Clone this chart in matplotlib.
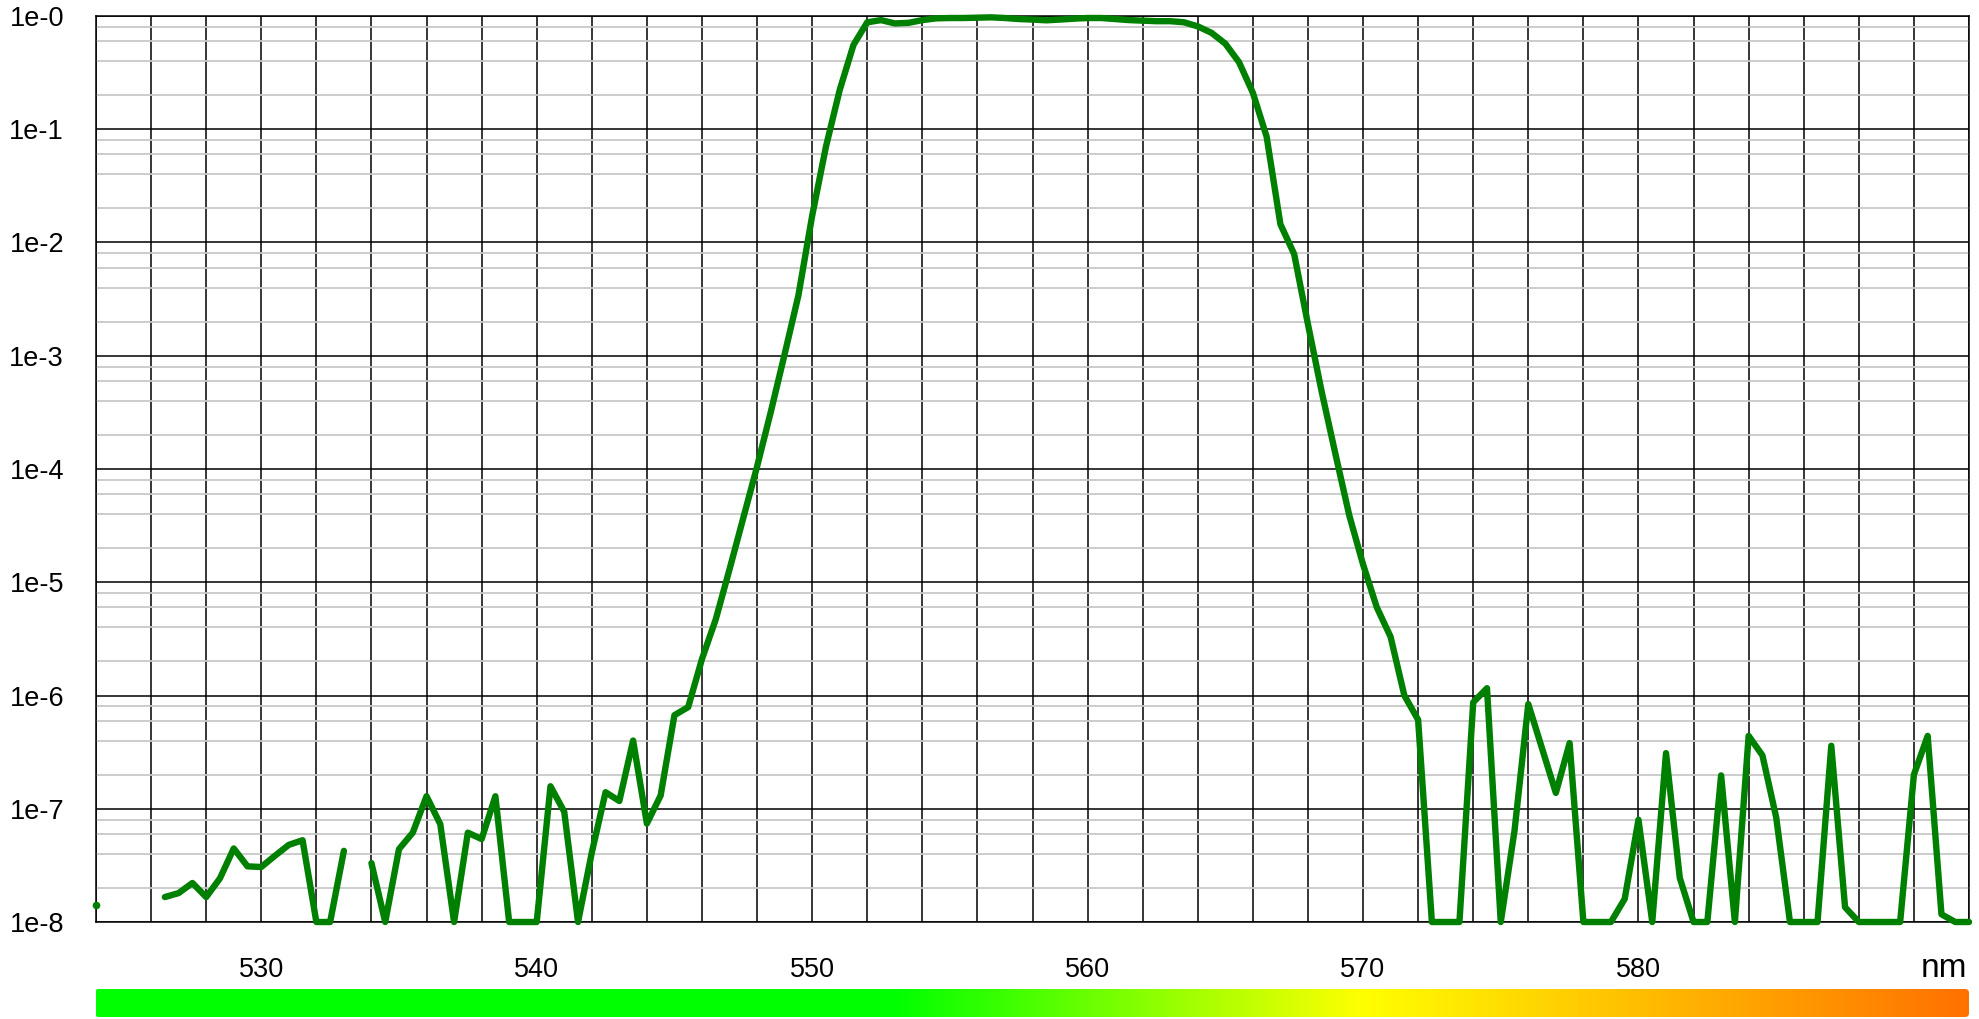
import numpy as np
import matplotlib
matplotlib.use("Agg")
import matplotlib.pyplot as plt
from matplotlib.ticker import FixedLocator, LogLocator, FuncFormatter, NullFormatter
from matplotlib.patches import FancyBboxPatch
from matplotlib.transforms import IdentityTransform

plt.rcParams["font.family"] = ["Liberation Sans", "DejaVu Sans"]

# ---------------- data ----------------
# wavelength sampling grid (nm), 0.5 nm step from 524 to 592
wl_start, wl_stop, wl_step = 524.0, 592.0, 0.5

# transmission (None = no value)
transmission = [
    1.40e-8, None, None, None, None,                      # 524.0 - 526.0
    1.66e-8, 1.80e-8, 2.21e-8, 1.66e-8, 2.43e-8,          # 526.5 - 528.5
    4.46e-8, 3.10e-8, 3.06e-8, 3.85e-8, 4.80e-8,          # 529.0 - 531.0
    5.27e-8, 1.0e-8, 1.0e-8, 4.25e-8, None,               # 531.5 - 533.5
    3.31e-8, 1.0e-8, 4.40e-8, 6.15e-8, 1.29e-7,           # 534.0 - 536.0
    7.30e-8, 1.0e-8, 6.15e-8, 5.40e-8, 1.29e-7,           # 536.5 - 538.5
    1.0e-8, 1.0e-8, 1.0e-8, 1.58e-7, 9.40e-8,             # 539.0 - 541.0
    1.0e-8, 4.10e-8, 1.40e-7, 1.17e-7, 4.00e-7,           # 541.5 - 543.5
    7.40e-8, 1.31e-7, 6.70e-7, 7.90e-7, 2.10e-6,          # 544.0 - 546.0
    4.70e-6, 1.30e-5, 3.70e-5, 1.05e-4, 3.20e-4,          # 546.5 - 548.5
    1.03e-3, 3.40e-3, 1.72e-2, 7.00e-2, 0.222,            # 549.0 - 551.0
    0.555, 0.88, 0.92, 0.86, 0.87,                        # 551.5 - 553.5
    0.92, 0.953, 0.96, 0.96, 0.966,                       # 554.0 - 556.0
    0.973, 0.96, 0.94, 0.93, 0.916,                       # 556.5 - 558.5
    0.93, 0.947, 0.96, 0.96, 0.94,                        # 559.0 - 561.0
    0.92, 0.91, 0.90, 0.90, 0.88,                         # 561.5 - 563.5
    0.81, 0.71, 0.57, 0.39, 0.21,                         # 564.0 - 566.0
    0.086, 0.0145, 7.9e-3, 1.9e-3, 4.8e-4,               # 566.5 - 568.5
    1.35e-4, 3.9e-5, 1.44e-5, 6.0e-6, 3.3e-6,            # 569.0 - 571.0
    1.0e-6, 6.1e-7, 1.0e-8, 1.0e-8, 1.0e-8,              # 571.5 - 573.5
    8.7e-7, 1.16e-6, 1.0e-8, 6.4e-8, 8.4e-7,             # 574.0 - 576.0
    3.4e-7, 1.38e-7, 3.8e-7, 1.0e-8, 1.0e-8,             # 576.5 - 578.5
    1.0e-8, 1.6e-8, 8.0e-8, 1.0e-8, 3.1e-7,              # 579.0 - 581.0
    2.45e-8, 1.0e-8, 1.0e-8, 1.97e-7, 1.0e-8,            # 581.5 - 583.5
    4.4e-7, 2.96e-7, 8.4e-8, 1.0e-8, 1.0e-8,             # 584.0 - 586.0
    1.0e-8, 3.6e-7, 1.35e-8, 1.0e-8, 1.0e-8,             # 586.5 - 588.5
    1.0e-8, 1.0e-8, 2.0e-7, 4.4e-7, 1.17e-8,             # 589.0 - 591.0
    1.0e-8, 1.0e-8,                                       # 591.5 - 592.0
]

x_tick_values = [530, 540, 550, 560, 570, 580]
x_tick_labels = ["530", "540", "550", "560", "570", "580"]
y_decades = [-8, -7, -6, -5, -4, -3, -2, -1, 0]
y_tick_labels = ["1e-8", "1e-7", "1e-6", "1e-5", "1e-4", "1e-3", "1e-2", "1e-1", "1e-0"]
unit_label = "nm"

# colour strip stops (nm -> RGB)
strip_nm = [524, 553, 570, 592]
strip_rgb = [(0.0, 1.0, 0.0), (0.0, 1.0, 0.0), (1.0, 1.0, 0.0), (1.0, 0.44, 0.0)]

# ---------------- figure ----------------
W, H = 1979, 1019
fig = plt.figure(figsize=(W / 100, H / 100), dpi=100)
ax = fig.add_axes([96 / W, 1 - 922 / H, (1969 - 96) / W, (922 - 16) / H])

wl = np.arange(wl_start, wl_stop + wl_step / 2, wl_step)
y = np.array([np.nan if v is None else v for v in transmission], dtype=float)
assert len(wl) == len(y)

ax.set_yscale("log")
ax.set_ylim(1e-8, 1)
ax.set_xlim(wl_start, wl_stop)

line_color = "#008000"
ax.plot(wl, y, color=line_color, lw=4.6, solid_capstyle="round",
        solid_joinstyle="round", clip_on=False, zorder=5)
# isolated samples (no neighbours) drawn as dots
fin = np.isfinite(y)
prev_f = np.r_[False, fin[:-1]]
next_f = np.r_[fin[1:], False]
iso = fin & ~prev_f & ~next_f
ax.plot(wl[iso], y[iso], "o", color=line_color, ms=5.5, mew=0, clip_on=False, zorder=5)

# ticks & grid
ax.yaxis.set_major_locator(FixedLocator([10.0 ** d for d in y_decades]))
ax.yaxis.set_major_formatter(FuncFormatter(
    lambda v, _: y_tick_labels[y_decades.index(int(round(np.log10(v))))]))
ax.yaxis.set_minor_locator(LogLocator(base=10, subs=[2, 4, 6, 8], numticks=50))
ax.yaxis.set_minor_formatter(NullFormatter())

ax.xaxis.set_major_locator(FixedLocator(x_tick_values))
ax.set_xticklabels(x_tick_labels)
ax.xaxis.set_minor_locator(FixedLocator(np.arange(wl_start, wl_stop + 1, 2)))

ax.set_axisbelow(True)
ax.grid(which="minor", axis="y", color="#c8c8c8", lw=1.3, zorder=0)
ax.grid(which="major", axis="both", color="black", lw=1.1, zorder=1)
ax.grid(which="minor", axis="x", color="black", lw=1.1, zorder=1)

ax.tick_params(which="both", length=0)
ax.tick_params(axis="y", labelsize=19.5, pad=23)
ax.tick_params(axis="x", labelsize=19.5, pad=25)
for s in ax.spines.values():
    s.set_color("black")
    s.set_linewidth(1.1)

fig.text(1967 / W, 1 - 977 / H, unit_label, ha="right", va="baseline", fontsize=24)

# ---------------- colour strip ----------------
cax = fig.add_axes([96 / W, 1 - 1017 / H, (1969 - 96) / W, 28 / H])
cax.set_xlim(wl_start, wl_stop)
cax.set_ylim(0, 1)
cax.axis("off")
grid_nm = np.linspace(wl_start, wl_stop, 1200)
rgb = np.array([[np.interp(g, strip_nm, [c[k] for c in strip_rgb]) for k in range(3)]
                for g in grid_nm])
im = cax.imshow(rgb[None, :, :], extent=[wl_start, wl_stop, 0, 1], aspect="auto",
                interpolation="bilinear")
clip = FancyBboxPatch((95, 2), 1874, 28, boxstyle="round,pad=0,rounding_size=4",
                      transform=IdentityTransform(), facecolor="none", edgecolor="none")
fig.add_artist(clip)
im.set_clip_path(clip)

fig.savefig("out.png", dpi=100)
